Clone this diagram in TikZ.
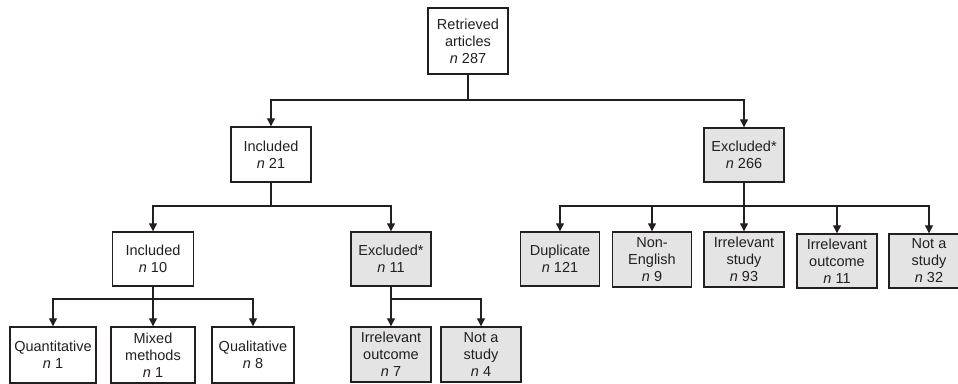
\documentclass[tikz,border=0pt]{standalone}
\usepackage{fontspec}
\setmainfont{Liberation Sans}
\usetikzlibrary{arrows.meta}
\definecolor{ln}{HTML}{231F20}
\definecolor{gr}{HTML}{E4E4E4}
\tikzset{
  box/.style={draw=ln, line width=1.4pt, minimum width=80pt, inner sep=0pt,
    align=center, text=ln, font=\fontsize{14.5}{17}\selectfont},
  exbox/.style={box, fill=gr},
  conn/.style={draw=ln, line width=1.2pt},
  arr/.style={conn, -{Triangle[width=8pt,length=8pt]}}
}
\begin{document}
\begin{tikzpicture}[x=1pt,y=-1pt]
\useasboundingbox (0,0) rectangle (958,383);
% level 0
\node[box, minimum height=66pt] (root) at (468,41) {Retrieved\\articles\\\textit{n} 287};
% level 1
\node[box, minimum height=55pt] (inc21) at (271,154.5) {Included\\\textit{n} 21};
\node[exbox, minimum height=54pt] (exc266) at (744,155) {Excluded*\\\textit{n} 266};
% level 2 left
\node[box, minimum width=81pt, minimum height=54pt] (inc10) at (153,259) {Included\\\textit{n} 10};
\node[exbox, minimum height=54pt] (exc11) at (391,259) {Excluded*\\\textit{n} 11};
% level 2 right
\node[exbox, minimum width=79pt, minimum height=54pt] (dup) at (560,259) {Duplicate\\\textit{n} 121};
\node[exbox, minimum width=79pt, minimum height=55pt] (noneng) at (652,259.5) {Non-\\English\\\textit{n} 9};
\node[exbox, minimum height=55pt] (irrstudy) at (744,259.5) {Irrelevant\\study\\\textit{n} 93};
\node[exbox, minimum height=54pt] (irrout11) at (837,261) {Irrelevant\\outcome\\\textit{n} 11};
\node[exbox, minimum height=54pt] (nota32) at (929,261) {Not a\\study\\\textit{n} 32};
% level 3
\node[box, minimum width=86pt, minimum height=56pt] (quant) at (53,355) {Quantitative\\\textit{n} 1};
\node[box, minimum width=84pt, minimum height=56pt] (mixed) at (153,355) {Mixed\\methods\\\textit{n} 1};
\node[box, minimum width=82pt, minimum height=56pt] (qual) at (253,355) {Qualitative\\\textit{n} 8};
\node[exbox, minimum height=55pt] (irrout7) at (391,354.5) {Irrelevant\\outcome\\\textit{n} 7};
\node[exbox, minimum height=55pt] (nota4) at (481,354.5) {Not a\\study\\\textit{n} 4};
% junctions
\coordinate (j1) at (468,100);
\coordinate (j2) at (271,206);
\coordinate (j5) at (744,206);
\coordinate (j3) at (153,299);
\coordinate (j4) at (391,299);
% connectors
\draw[conn] (root.south) -- (j1);
\draw[arr] (j1) -| (inc21.north);
\draw[arr] (j1) -| (exc266.north);
\draw[conn] (inc21.south) -- (j2);
\draw[arr] (j2) -| (inc10.north);
\draw[arr] (j2) -| (exc11.north);
\draw[conn] (inc10.south) -- (j3);
\draw[arr] (j3) -| (quant.north);
\draw[arr] (j3) -- (mixed.north);
\draw[arr] (j3) -| (qual.north);
\draw[conn] (exc11.south) -- (j4);
\draw[arr] (j4) -- (irrout7.north);
\draw[arr] (j4) -| (nota4.north);
\draw[conn] (exc266.south) -- (j5);
\draw[arr] (j5) -| (dup.north);
\draw[arr] (j5) -| (noneng.north);
\draw[arr] (j5) -- (irrstudy.north);
\draw[arr] (j5) -| (irrout11.north);
\draw[arr] (j5) -| (nota32.north);
\end{tikzpicture}
\end{document}
